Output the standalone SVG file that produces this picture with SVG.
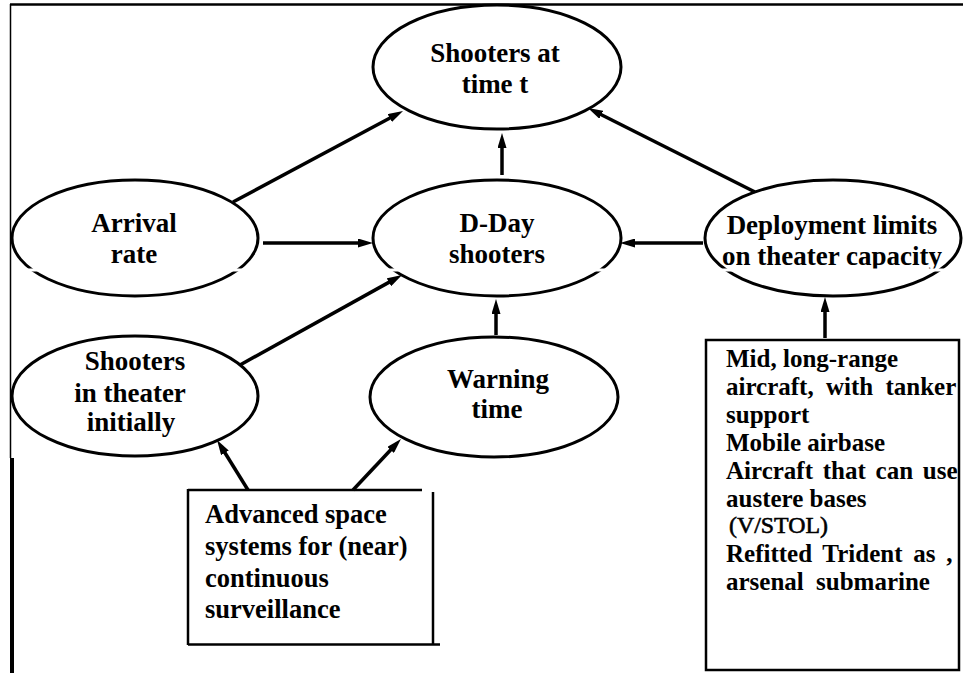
<svg xmlns="http://www.w3.org/2000/svg" width="963" height="673" viewBox="0 0 963 673">
  <defs>
    <style>
      .el { fill: #ffffff; stroke: #000000; stroke-width: 3; }
      .lbl { font-family: "Liberation Serif", "Times New Roman", serif; font-weight: bold; font-size: 27px; text-anchor: middle; fill: #000000; }
      .bx { font-family: "Liberation Serif", "Times New Roman", serif; font-weight: bold; fill: #000000; }
      .alt { font-family: "Liberation Serif", "Times New Roman", serif; font-weight: normal; font-size: 24px; fill: #000000; stroke: #000000; stroke-width: 0.6; }
      .frame { stroke: #000000; fill: none; }
      .box { stroke: #000000; stroke-width: 2.5; fill: none; }
      .conn line { stroke: #000000; stroke-width: 3.5; marker-end: url(#arrow); }
    </style>
    <marker id="arrow" markerUnits="userSpaceOnUse" markerWidth="15" markerHeight="9" refX="5" refY="4.5" orient="auto">
      <path d="M0,0 L15,4.5 L0,9 z" fill="#000000"/>
    </marker>
  </defs>

  <rect x="0" y="0" width="963" height="673" fill="#ffffff"/>

  <g id="frame">
    <line class="frame" x1="10" y1="4.5" x2="963" y2="4.5" stroke-width="2.5"/>
    <line class="frame" x1="10.5" y1="4" x2="10.5" y2="458" stroke-width="1.5"/>
    <line class="frame" x1="12" y1="458" x2="12" y2="673" stroke-width="4"/>
  </g>

  <g id="shooters-at-time-t">
    <ellipse class="el" cx="497" cy="67" rx="124" ry="62"/>
    <text class="lbl" x="495" y="62">Shooters at</text>
    <text class="lbl" x="495" y="93">time t</text>
  </g>

  <g id="arrival-rate">
    <ellipse class="el" cx="135" cy="238" rx="123" ry="58"/>
    <text class="lbl" x="134" y="232">Arrival</text>
    <text class="lbl" x="134" y="263">rate</text>
  </g>

  <g id="d-day-shooters">
    <ellipse class="el" cx="497" cy="238" rx="124" ry="58"/>
    <text class="lbl" x="497" y="232">D-Day</text>
    <text class="lbl" x="497" y="263">shooters</text>
  </g>

  <g id="deployment-limits">
    <ellipse class="el" cx="833" cy="238" rx="128" ry="58"/>
    <text class="lbl" x="832" y="234">Deployment limits</text>
    <text class="lbl" x="832" y="265">on theater capacity</text>
  </g>

  <g id="shooters-in-theater">
    <ellipse class="el" cx="135" cy="396" rx="123" ry="60"/>
    <text class="lbl" x="135" y="370">Shooters</text>
    <text class="lbl" x="130" y="402">in theater</text>
    <text class="lbl" x="131" y="431">initially</text>
  </g>

  <g id="warning-time">
    <ellipse class="el" cx="494" cy="397" rx="124" ry="60"/>
    <text class="lbl" x="498" y="388">Warning</text>
    <text class="lbl" x="497" y="418">time</text>
  </g>

  <g id="space-systems-box">
    <line class="box" x1="188" y1="490" x2="422" y2="490"/>
    <line class="box" x1="188" y1="489" x2="188" y2="645"/>
    <line class="box" x1="188" y1="644.5" x2="440" y2="644.5"/>
    <line class="box" x1="433" y1="492" x2="433" y2="645"/>
    <text class="bx" font-size="26.5" x="205" y="523">Advanced space</text>
    <text class="bx" font-size="26.5" x="205" y="555">systems for (near)</text>
    <text class="bx" font-size="26.5" x="205" y="587">continuous</text>
    <text class="bx" font-size="26.5" x="205" y="618">surveillance</text>
  </g>

  <g id="options-box">
    <rect class="box" x="706" y="340" width="253" height="330"/>
    <text class="bx" font-size="25" x="726" y="367">Mid, long-range</text>
    <text class="bx" font-size="25" x="726" y="395" word-spacing="6">aircraft, with tanker</text>
    <text class="bx" font-size="25" x="726" y="423">support</text>
    <text class="bx" font-size="25" x="726" y="451">Mobile airbase</text>
    <text class="bx" font-size="25" x="726" y="479" word-spacing="3.5">Aircraft that can use</text>
    <text class="bx" font-size="25" x="726" y="507">austere bases</text>
    <text class="alt" x="729" y="533" textLength="99" lengthAdjust="spacingAndGlyphs">(V/STOL)</text>
    <text class="bx" font-size="25" x="726" y="562" word-spacing="4.5">Refitted Trident as ,</text>
    <text class="bx" font-size="25" x="726" y="590" word-spacing="6">arsenal submarine</text>
  </g>

  <g id="connectors" class="conn">
    <line x1="233" y1="202" x2="394.2" y2="115.7"/>
    <line x1="755" y1="192" x2="596.9" y2="112.5"/>
    <line x1="502" y1="175" x2="502" y2="143"/>
    <line x1="263" y1="243" x2="363" y2="243"/>
    <line x1="703" y1="243" x2="630" y2="243"/>
    <line x1="240" y1="365" x2="393.3" y2="279.9"/>
    <line x1="496" y1="335" x2="496" y2="309"/>
    <line x1="248" y1="490" x2="222.3" y2="448.5"/>
    <line x1="353" y1="490" x2="394.1" y2="446.3"/>
    <line x1="825" y1="338" x2="825" y2="307"/>
  </g>

  <rect x="15" y="268.5" width="948" height="3" fill="#ffffff"/>
</svg>
